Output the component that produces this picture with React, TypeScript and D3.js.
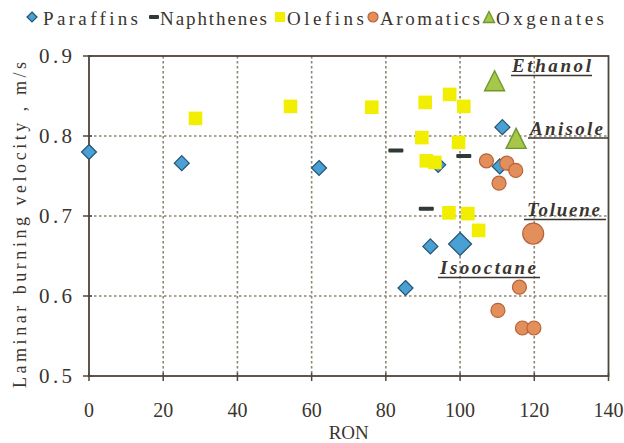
import React from "react";
import * as d3 from "d3";

const W = 624;
const H = 443;

// RON vs laminar burning velocity (m/s) by fuel class
const paraffins = [
  { ron: 0, su: 0.780 },
  { ron: 25, su: 0.766 },
  { ron: 62, su: 0.760 },
  { ron: 94.1, su: 0.764 },
  { ron: 111.4, su: 0.811 },
  { ron: 110.7, su: 0.762 },
  { ron: 92, su: 0.662 },
  { ron: 85.3, su: 0.610 },
];
const naphthenes = [
  { ron: 82.7, su: 0.782 },
  { ron: 101, su: 0.775 },
  { ron: 90.9, su: 0.709 },
];
const olefins = [
  { ron: 28.7, su: 0.822 },
  { ron: 54.3, su: 0.837 },
  { ron: 76.2, su: 0.836 },
  { ron: 90.6, su: 0.842 },
  { ron: 97.2, su: 0.852 },
  { ron: 101, su: 0.837 },
  { ron: 89.7, su: 0.798 },
  { ron: 99.6, su: 0.792 },
  { ron: 90.9, su: 0.769 },
  { ron: 93.2, su: 0.767 },
  { ron: 97, su: 0.704 },
  { ron: 102.1, su: 0.703 },
  { ron: 105, su: 0.682 },
];
const aromatics = [
  { ron: 107.1, su: 0.769 },
  { ron: 112.6, su: 0.766 },
  { ron: 115, su: 0.757 },
  { ron: 110.5, su: 0.741 },
  { ron: 116, su: 0.611 },
  { ron: 110.2, su: 0.582 },
  { ron: 116.8, su: 0.560 },
  { ron: 119.9, su: 0.560 },
];
const oxygenates = [
  { ron: 109.3, su: 0.869 },
  { ron: 115.1, su: 0.797 },
];
// reference fuels drawn with enlarged markers
const isooctane = { ron: 100, su: 0.665 };
const toluene = { ron: 119.7, su: 0.678 };

const xTicks = [0, 20, 40, 60, 80, 100, 120, 140];
const yTicks = [0.5, 0.6, 0.7, 0.8, 0.9];
const xGrid = [20, 40, 60, 80, 100, 120];
const yGrid = [0.6, 0.7, 0.8];

const legendItems = [
  { key: "diamond", label: "Paraffins", mx: 32, tx: 43, tw: 95 },
  { key: "dash", label: "Naphthenes", mx: 154, tx: 160, tw: 107 },
  { key: "square", label: "Olefins", mx: 280, tx: 287, tw: 77 },
  { key: "circle", label: "Aromatics", mx: 373, tx: 380, tw: 100 },
  { key: "triangle", label: "Oxgenates", mx: 489, tx: 496, tw: 108 },
];

const labels = [
  { text: "Ethanol", x: 512, y: 72, w: 79, ux0: 511, ux1: 592, uy: 75.5 },
  { text: "Anisole", x: 530, y: 135, w: 73, ux0: 528, ux1: 608, uy: 138 },
  { text: "Toluene", x: 527, y: 216, w: 73, ux0: 524, ux1: 606, uy: 219.5 },
  { text: "Isooctane", x: 440, y: 274, w: 96, ux0: 438, ux1: 540, uy: 277.5 },
];

const BLUE = "#4a9fd4";
const BLUE_S = "#24536e";
const YELLOW = "#f2ee00";
const ORANGE = "#e38f5b";
const ORANGE_S = "#b8623a";
const GREEN = "#a7c64a";
const GREEN_S = "#6b992e";
const DASH = "#2f3935";
const FRAME = "#4e453b";
const GRID = "#8d8575";
const TEXT = "#3b352f";
const textStyle = { fontFamily: "Liberation Serif" };

const diamondPath = (h: number) => `M0,${-h}L${h},0L0,${h}L${-h},0Z`;
const trianglePath = (w: number, h: number) =>
  `M0,${-h / 2}L${w / 2},${h / 2}L${-w / 2},${h / 2}Z`;

function Marker({ kind, size }: { kind: string; size: number }) {
  switch (kind) {
    case "diamond":
      return <path d={diamondPath(size)} fill={BLUE} stroke={BLUE_S} strokeWidth={1.2} />;
    case "dash":
      return <rect x={-size} y={-2} width={size * 2} height={4} fill={DASH} rx={1} />;
    case "square":
      return <rect x={-size} y={-size} width={size * 2} height={size * 2} fill={YELLOW} />;
    case "circle":
      return <circle r={size} fill={ORANGE} stroke={ORANGE_S} strokeWidth={1.2} />;
    default:
      return (
        <path d={trianglePath(size * 2, size * 2)} fill={GREEN} stroke={GREEN_S} strokeWidth={1.4} />
      );
  }
}

export default function App() {
  const x = d3.scaleLinear().domain([0, 140]).range([89, 608.5]);
  const y = d3.scaleLinear().domain([0.5, 0.9]).range([376, 56]);
  const fmt = d3.format(".1f");

  const series = [
    { kind: "diamond", data: paraffins, size: 7.5 },
    { kind: "dash", data: naphthenes, size: 7.5 },
    { kind: "square", data: olefins, size: 6.8 },
    { kind: "circle", data: aromatics, size: 7 },
    { kind: "triangle", data: oxygenates, size: 10 },
  ];

  const [x0, x1] = x.range();
  const [yb, yt] = y.range();

  return (
    <svg
      width={W}
      height={H}
      style={{ position: "absolute", left: 0, top: 0, background: "#fff" }}
    >
      <rect width={W} height={H} fill="#fff" />

      {/* legend */}
      {legendItems.map((it) => (
        <g key={it.key}>
          <g transform={`translate(${it.mx},17)`}>
            <Marker kind={it.key} size={it.key === "triangle" ? 5.5 : 5} />
          </g>
          <text
            x={it.tx}
            y={25}
            fontSize={19}
            fill={TEXT}
            style={textStyle}
            textLength={it.tw}
            lengthAdjust="spacing"
          >
            {it.label}
          </text>
        </g>
      ))}

      {/* gridlines */}
      {xGrid.map((v) => (
        <line
          key={`gx${v}`}
          x1={x(v)}
          x2={x(v)}
          y1={yt}
          y2={yb}
          stroke={GRID}
          strokeWidth={1.6}
          strokeDasharray="2.5,2.5"
        />
      ))}
      {yGrid.map((v) => (
        <line
          key={`gy${v}`}
          x1={x0}
          x2={x1}
          y1={y(v)}
          y2={y(v)}
          stroke={GRID}
          strokeWidth={1.6}
          strokeDasharray="2.5,2.5"
        />
      ))}

      {/* frame */}
      <rect x={x0} y={yt} width={x1 - x0} height={yb - yt} fill="none" stroke={FRAME} strokeWidth={1.8} />

      {/* ticks and tick labels */}
      {yTicks.map((v) => (
        <g key={`ty${v}`}>
          <line x1={x0 - 6} x2={x0 + 3} y1={y(v)} y2={y(v)} stroke={FRAME} strokeWidth={1.5} />
          <text
            x={39}
            y={y(v) + 7}
            fontSize={21}
            fill={TEXT}
            style={textStyle}
            textLength={33}
            lengthAdjust="spacing"
          >
            {fmt(v)}
          </text>
        </g>
      ))}
      {xTicks.map((v) => (
        <g key={`tx${v}`}>
          <line x1={x(v)} x2={x(v)} y1={yb - 3} y2={yb + 5} stroke={FRAME} strokeWidth={1.5} />
          <text x={x(v)} y={417} fontSize={20} fill={TEXT} style={textStyle} textAnchor="middle">
            {v}
          </text>
        </g>
      ))}

      {/* axis titles */}
      <text x={(x0 + x1) / 2} y={439} fontSize={19} fill={TEXT} style={textStyle} textAnchor="middle">
        RON
      </text>
      <text
        transform="translate(26,225) rotate(-90)"
        fontSize={18}
        fill={TEXT}
        style={textStyle}
        textAnchor="middle"
        textLength={326}
        lengthAdjust="spacing"
      >
        Laminar burning velocity , m/s
      </text>

      {/* data */}
      {series.map((s) =>
        s.data.map((d, i) => (
          <g key={`${s.kind}${i}`} transform={`translate(${x(d.ron)},${y(d.su)})`}>
            <Marker kind={s.kind} size={s.size} />
          </g>
        ))
      )}
      <g transform={`translate(${x(isooctane.ron)},${y(isooctane.su)})`}>
        <Marker kind="diamond" size={11.5} />
      </g>
      <g transform={`translate(${x(toluene.ron)},${y(toluene.su)})`}>
        <Marker kind="circle" size={10.5} />
      </g>

      {/* compound labels */}
      {labels.map((l) => (
        <g key={l.text}>
          <text
            x={l.x}
            y={l.y}
            fontSize={19}
            fontStyle="italic"
            fontWeight="bold"
            fill={TEXT}
            style={textStyle}
            textLength={l.w}
            lengthAdjust="spacing"
          >
            {l.text}
          </text>
          <line x1={l.ux0} x2={l.ux1} y1={l.uy} y2={l.uy} stroke={TEXT} strokeWidth={1.6} />
        </g>
      ))}
    </svg>
  );
}
